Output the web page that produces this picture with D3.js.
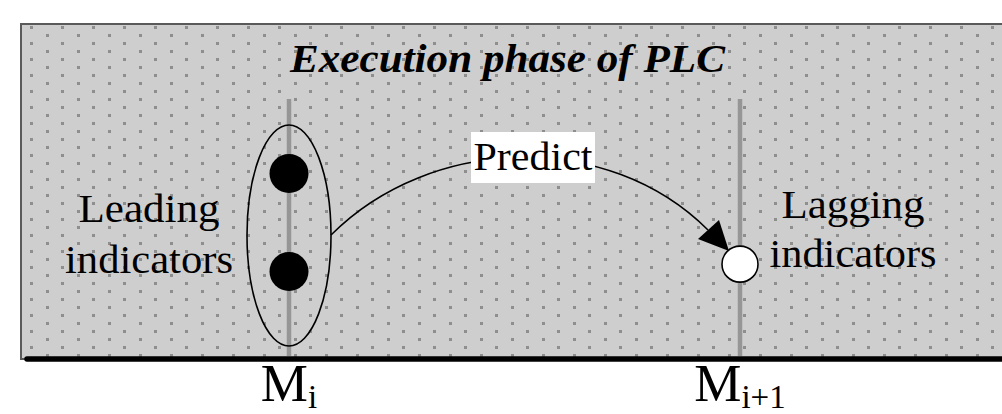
<!DOCTYPE html>
<html>
<head>
<meta charset="utf-8">
<script src="https://cdn.jsdelivr.net/npm/d3@7"></script>
<style>
  body { margin: 0; background: #fff; }
  svg { display: block; }
  text { font-family: "Liberation Serif", "Times New Roman", serif; fill: #000; }
</style>
</head>
<body>
<svg id="chart" width="1002" height="414"></svg>
<script>
// time steps of the PLC execution phase
var moments = ["i", "i+1"];
// indicator positions (0 = top of the lane, 1 = bottom)
var leadingIndicators = [0.3, 0.7];
var laggingIndicators = [0.67];
var title = "Execution phase of PLC";
var leadingLabel = ["Leading", "indicators"];
var laggingLabel = ["Lagging", "indicators"];
var arrowLabel = "Predict";

var svg = d3.select("#chart"),
    width = +svg.attr("width"),
    height = +svg.attr("height");

var box = {left: 21, top: 24, right: 1010, bottom: 359};

// x position of each time step, y position inside the indicator lane
var x = d3.scalePoint().domain(moments).range([289, 740]);
var y = d3.scaleLinear().domain([0, 1]).range([100, 345]);

svg.append("rect")
    .attr("x", box.left).attr("y", box.top)
    .attr("width", box.right - box.left).attr("height", box.bottom - box.top)
    .attr("fill", "#cecece")
    .attr("stroke", "#5a5a5a")
    .attr("stroke-width", 2);

// dotted background, staggered rows
var dots = [];
for (var r = 0; r * 8 + 26 < 356; r++) {
    var off = (r % 2) ? 15.5 : 0;
    for (var c = 0; 30 + off + c * 31 < width; c++) {
        dots.push([Math.round(30 + off + c * 31), 26 + r * 8]);
    }
}
svg.append("g")
    .selectAll("rect")
    .data(dots)
    .enter().append("rect")
    .attr("x", function(d) { return d[0]; })
    .attr("y", function(d) { return d[1]; })
    .attr("width", 3).attr("height", 3)
    .attr("fill", "#8e8e8e");

// bottom time axis
svg.append("line")
    .attr("x1", 27).attr("x2", 1010)
    .attr("y1", 359).attr("y2", 359)
    .attr("stroke", "#000")
    .attr("stroke-width", 5.5)
    .attr("stroke-linecap", "round");

// vertical gray lines at each moment
svg.selectAll("line.moment")
    .data(moments)
    .enter().append("line")
    .attr("class", "moment")
    .attr("x1", function(d) { return x(d); })
    .attr("x2", function(d) { return x(d); })
    .attr("y1", 99).attr("y2", 356)
    .attr("stroke", "#969696")
    .attr("stroke-width", 4.5);

// title
svg.append("text")
    .attr("x", 290).attr("y", 72)
    .attr("font-size", 41)
    .attr("font-weight", "bold")
    .attr("font-style", "italic")
    .attr("textLength", 435)
    .attr("lengthAdjust", "spacingAndGlyphs")
    .text(title);

// ellipse around leading indicators
var mi = x(moments[0]);
svg.append("ellipse")
    .attr("cx", mi).attr("cy", 235.5)
    .attr("rx", 42).attr("ry", 110.5)
    .attr("fill", "none")
    .attr("stroke", "#000")
    .attr("stroke-width", 1.6);

svg.selectAll("circle.lead")
    .data(leadingIndicators)
    .enter().append("circle")
    .attr("class", "lead")
    .attr("cx", mi)
    .attr("cy", function(d) { return y(d); })
    .attr("r", 19.5)
    .attr("fill", "#000");

// prediction arrow
var mj = x(moments[1]);
var p0 = [mi + 42, 235],
    p3 = [708, 230];
var curve = d3.path();
curve.moveTo(p0[0], p0[1]);
curve.bezierCurveTo(p0[0] + 100, p0[1] - 100, p3[0] - 100, p3[1] - 100, p3[0], p3[1]);
svg.append("path")
    .attr("d", curve.toString())
    .attr("fill", "none")
    .attr("stroke", "#000")
    .attr("stroke-width", 1.6);

var tip = [729, 251];
svg.append("path")
    .attr("d", d3.line()([tip, [698, 239], [719, 220]]) + "Z")
    .attr("fill", "#000");

// lagging indicator
svg.selectAll("circle.lag")
    .data(laggingIndicators)
    .enter().append("circle")
    .attr("class", "lag")
    .attr("cx", mj)
    .attr("cy", function(d) { return y(d); })
    .attr("r", 18)
    .attr("fill", "#fff")
    .attr("stroke", "#000")
    .attr("stroke-width", 1.6);

// predict label
svg.append("rect")
    .attr("x", 471).attr("y", 132)
    .attr("width", 124).attr("height", 51)
    .attr("fill", "#fff");
svg.append("text")
    .attr("x", 533).attr("y", 170)
    .attr("text-anchor", "middle")
    .attr("font-size", 40)
    .attr("textLength", 119)
    .attr("lengthAdjust", "spacingAndGlyphs")
    .text(arrowLabel);

// side labels
function sideLabel(lines, cx, baselines, widths) {
    svg.selectAll(null)
        .data(lines)
        .enter().append("text")
        .attr("x", cx)
        .attr("y", function(d, i) { return baselines[i]; })
        .attr("text-anchor", "middle")
        .attr("font-size", 41)
        .attr("textLength", function(d, i) { return widths[i]; })
        .attr("lengthAdjust", "spacingAndGlyphs")
        .text(function(d) { return d; });
}
sideLabel(leadingLabel, 149, [222, 273], [141, 168]);
sideLabel(laggingLabel, 853, [218, 267], [143, 167]);

// moment labels M_i, M_i+1
var ml = svg.selectAll("text.moment")
    .data(moments)
    .enter().append("text")
    .attr("class", "moment")
    .attr("x", function(d) { return x(d); })
    .attr("y", 401)
    .attr("text-anchor", "middle")
    .attr("font-size", 53);
ml.append("tspan").text("M");
ml.append("tspan")
    .attr("font-size", 33)
    .attr("dy", 7)
    .text(function(d) { return d; });
</script>
</body>
</html>
